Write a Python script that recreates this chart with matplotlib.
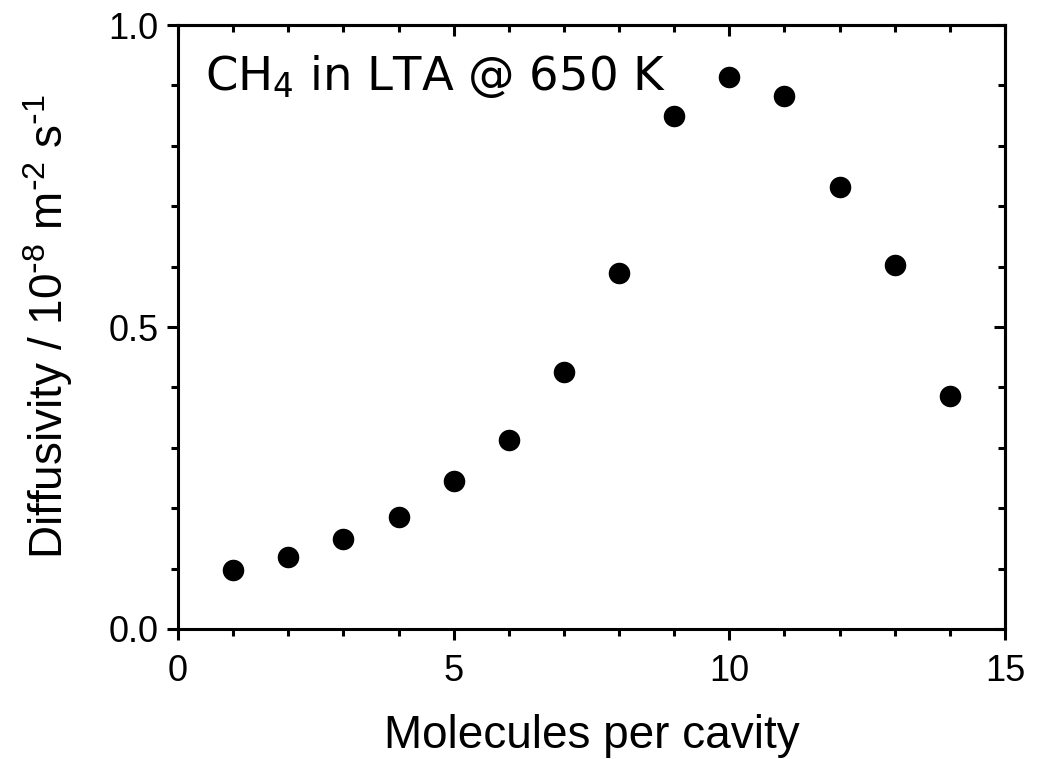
import matplotlib
matplotlib.use('Agg')
import matplotlib.pyplot as plt
from matplotlib.ticker import MultipleLocator, FormatStrFormatter

# data
molecules = [1, 2, 3, 4, 5, 6, 7, 8, 9, 10, 11, 12, 13, 14]
diffusivity = [0.097, 0.119, 0.149, 0.185, 0.245, 0.313, 0.425, 0.589,
               0.849, 0.914, 0.882, 0.732, 0.603, 0.386]

plt.rcParams['font.family'] = ['Liberation Sans', 'DejaVu Sans']
plt.rcParams['mathtext.default'] = 'regular'

fig = plt.figure(figsize=(10.37, 7.59), dpi=100)
ax = fig.add_axes([0.1717, 0.1713, 0.7974, 0.7957])

ax.plot(molecules, diffusivity, 'o', color='black', markersize=14.5)

ax.set_xlim(0, 15)
ax.set_ylim(0, 1.0)
ax.xaxis.set_major_locator(MultipleLocator(5))
ax.xaxis.set_minor_locator(MultipleLocator(1))
ax.yaxis.set_major_locator(MultipleLocator(0.5))
ax.yaxis.set_minor_locator(MultipleLocator(0.1))
ax.yaxis.set_major_formatter(FormatStrFormatter('%.1f'))

for s in ax.spines.values():
    s.set_linewidth(2.2)

# left/bottom ticks outward, top/right inward
ax.tick_params(which='major', direction='out', length=8, width=2.2, labelsize=26)
ax.tick_params(axis='x', which='major', pad=10)
ax.tick_params(axis='y', which='major', pad=6)
ax.tick_params(which='minor', direction='out', length=5, width=2.2)
ax2 = ax.secondary_xaxis('top')
ax2.xaxis.set_major_locator(MultipleLocator(5))
ax2.xaxis.set_minor_locator(MultipleLocator(1))
ax2.tick_params(which='major', direction='in', length=8, width=2.2, labeltop=False)
ax2.tick_params(which='minor', direction='in', length=5, width=2.2)
ax2.spines['top'].set_linewidth(2.2)
ay2 = ax.secondary_yaxis('right')
ay2.yaxis.set_major_locator(MultipleLocator(0.5))
ay2.yaxis.set_minor_locator(MultipleLocator(0.1))
ay2.tick_params(which='major', direction='in', length=8, width=2.2, labelright=False)
ay2.tick_params(which='minor', direction='in', length=5, width=2.2)
ay2.spines['right'].set_linewidth(2.2)

ax.set_xlabel('Molecules per cavity', fontsize=33, labelpad=18)
ax.set_ylabel(r'Diffusivity / 10$^{\text{-}8}$ m$^{\text{-}2}$ s$^{\text{-}1}$',
              fontsize=33, labelpad=24)

ax.text(0.033, 0.892, r'CH$_4$ in LTA @ 650 K', transform=ax.transAxes,
        fontsize=33.5, family='DejaVu Sans', ha='left', va='baseline')

fig.savefig('out.png', dpi=100)
